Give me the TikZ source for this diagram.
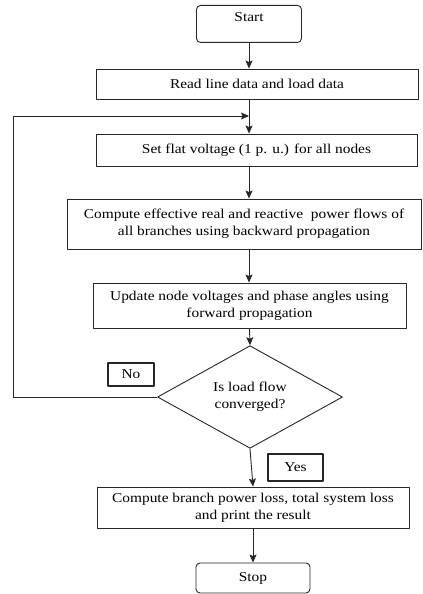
\documentclass[tikz,border=0pt]{standalone}
\usepackage{fontspec}
\setmainfont{Liberation Serif}[FakeStretch=1.14]
\usetikzlibrary{arrows.meta,shapes.geometric}
\begin{document}
\begin{tikzpicture}[x=1bp,y=-1bp,>={Stealth[length=8bp,width=7bp,inset=1.5bp]},
    line join=round, font=\fontsize{13.5bp}{16.7bp}\selectfont,
    box/.style={draw=black!85, line width=0.9bp, inner sep=0pt, align=center},
    term/.style={box, rounded corners=4bp},
    test/.style={box, diamond},
    tag/.style={box, line width=1.1bp},
    flow/.style={->, draw=black!85, line width=0.9bp}]
    \useasboundingbox (0,0) rectangle (422,594);
    \def\spine{249} % main line
    \node (start) at (\spine,5) [term, anchor=north, minimum width=105bp, text height=16.5bp, text depth=20.5bp] {Start};
    \node (read) at (257,84) [box, minimum width=322bp, minimum height=30bp] {Read line data and load data};
    \node (flat) at (256.5,150) [box, minimum width=321bp, minimum height=32bp] {Set flat voltage (1 p. u.) for all nodes};
    \node (eff) at (244,224) [box, minimum width=354bp, minimum height=50bp] {Compute effective real and reactive \ power flows of\\all branches using backward propagation};
    \node (upd) at (249.5,305.5) [box, minimum width=313bp, minimum height=45bp] {Update node voltages and phase angles using\\forward propagation};
    \node (conv) at (250,397) [test, minimum width=185bp, minimum height=88bp] {Is load flow\\converged?};
    \node (no) at (131,374.5) [tag, minimum width=46bp, minimum height=23bp] {No};
    \node (yes) at (295.5,467.5) [tag, minimum width=55bp, minimum height=27bp] {Yes};
    \node (loss) at (253,507.5) [box, minimum width=312bp, minimum height=41bp] {Compute branch power loss, total system loss\\and print the result};
    \node (stop) at (253,578) [term, minimum width=114bp, minimum height=30bp] {Stop};
    \coordinate (back) at (13,116);
    \draw[flow] (start.south) -- (start.south |- read.north);
    \draw[flow] (start.south |- read.south) -- (start.south |- flat.north);
    \draw[flow] (start.south |- flat.south) -- (start.south |- eff.north);
    \draw[flow] (start.south |- eff.south) -- (start.south |- upd.north);
    \draw[flow] (upd.south) -- (conv.north);
    \draw[flow] (conv.south) -- (loss.north);
    \draw[flow] (loss.south) -- (stop.north);
    \draw[flow] (conv.west) -| (back) -- (back -| start.south);
\end{tikzpicture}
\end{document}
